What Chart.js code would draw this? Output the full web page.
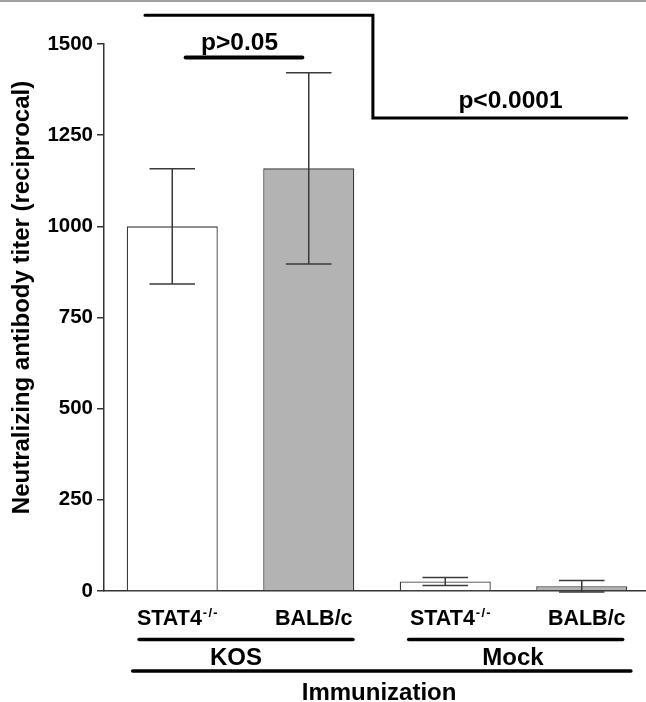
<!DOCTYPE html>
<html><head><meta charset="utf-8">
<script src="https://cdn.jsdelivr.net/npm/chart.js@4"></script>
<style>html,body{margin:0;padding:0;overflow:hidden;background:#fff}#wrap{width:650px;height:702px;position:relative}</style>
</head><body><div id="wrap"><canvas id="c"></canvas></div>
<script>
// ---- data ----
const categories = ['STAT4', 'BALB/c', 'STAT4', 'BALB/c'];
const superscripts = ['-/-', '', '-/-', ''];
const groups = ['KOS', 'Mock'];
const means = [1000, 1159, 26, 13];
const errors = [158, 262, 11, 16];
const fills = ['#ffffff', '#b3b3b3', '#ffffff', '#b3b3b3'];
const yTicks = [0, 250, 500, 750, 1000, 1250, 1500];
const yTitle = 'Neutralizing antibody titer (reciprocal)';
const xTitle = 'Immunization';
const pLabels = ['p>0.05', 'p<0.0001'];

const FONT = "'Liberation Sans', Arial, sans-serif";

const annot = {
  id: 'annot',
  afterDatasetsDraw(chart) {
    const ctx = chart.ctx, ys = chart.scales.y;
    const meta = chart.getDatasetMeta(0);
    ctx.save();
    ctx.strokeStyle = '#3a3a3a';
    ctx.lineWidth = 1.5;
    meta.data.forEach((bar, i) => {
      const x = bar.x, half = bar.width / 4;
      const yt = ys.getPixelForValue(means[i] + errors[i]);
      const yb = ys.getPixelForValue(means[i] - errors[i]);
      ctx.beginPath();
      ctx.moveTo(x, yt); ctx.lineTo(x, yb);
      ctx.moveTo(x - half, yt); ctx.lineTo(x + half, yt);
      ctx.moveTo(x - half, yb); ctx.lineTo(x + half, yb);
      ctx.stroke();
    });
    ctx.restore();
  },
  afterDraw(chart) {
    const ctx = chart.ctx, ys = chart.scales.y, xs = chart.scales.x;
    const x0 = xs.getPixelForValue(0), x1 = xs.getPixelForValue(1);
    const px = f => x0 + f * (x1 - x0);
    const py = v => ys.getPixelForValue(v);
    ctx.save();
    ctx.strokeStyle = '#a0a0a0'; ctx.lineWidth = 2;
    ctx.beginPath(); ctx.moveTo(0, 1); ctx.lineTo(chart.width, 1); ctx.stroke();

    ctx.strokeStyle = '#000'; ctx.fillStyle = '#000';
    ctx.lineCap = 'round'; ctx.lineJoin = 'miter';
    ctx.lineWidth = 3;
    ctx.beginPath();
    ctx.moveTo(px(-0.2), py(1579));
    ctx.lineTo(px(1.47), py(1579));
    ctx.lineTo(px(1.47), py(1297));
    ctx.lineTo(px(3.33), py(1297));
    ctx.stroke();
    ctx.lineWidth = 4;
    ctx.beginPath(); ctx.moveTo(px(0.098), py(1463)); ctx.lineTo(px(0.953), py(1463)); ctx.stroke();

    ctx.textAlign = 'center'; ctx.textBaseline = 'alphabetic';
    ctx.font = 'bold 24.5px ' + FONT;
    ctx.fillText(pLabels[0], px(0.493), py(1483));
    ctx.fillText(pLabels[1], px(2.478), py(1325));

    const baseY = 624.5;
    categories.forEach((lab, i) => {
      const cx = xs.getPixelForValue(i) + 5;
      ctx.font = 'bold 21.5px ' + FONT;
      const w1 = ctx.measureText(lab).width;
      const sup = superscripts[i];
      ctx.font = 'bold 13px ' + FONT;
      const chars = sup.split('');
      const sp = 1.2;
      let w2 = 0;
      chars.forEach((c, k) => { w2 += ctx.measureText(c).width + (k ? sp : 0); });
      const total = w1 + (sup ? w2 + 1 : 0);
      const sx = cx - total / 2;
      ctx.textAlign = 'left';
      ctx.font = 'bold 21.5px ' + FONT;
      ctx.fillText(lab, sx, baseY);
      if (sup) {
        ctx.font = 'bold 13px ' + FONT;
        let xx = sx + w1 + 1;
        chars.forEach(c => { ctx.fillText(c, xx, baseY - 8); xx += ctx.measureText(c).width + sp; });
      }
    });

    ctx.lineWidth = 3.5;
    ctx.beginPath(); ctx.moveTo(px(-0.243), 639.5); ctx.lineTo(px(1.324), 639.5); ctx.stroke();
    ctx.beginPath(); ctx.moveTo(px(1.732), 639.5); ctx.lineTo(px(3.3), 639.5); ctx.stroke();
    ctx.beginPath(); ctx.moveTo(px(-0.29), 671); ctx.lineTo(px(3.36), 671); ctx.stroke();

    ctx.textAlign = 'center';
    ctx.font = 'bold 24px ' + FONT;
    ctx.fillText(groups[0], px(0.467), 665);
    ctx.fillText(groups[1], px(2.496), 665);
    ctx.fillText(xTitle, px(1.515), 700);

    ctx.save();
    ctx.translate(22, 297.5);
    ctx.rotate(-Math.PI / 2);
    ctx.textBaseline = 'middle';
    ctx.font = 'bold 24px ' + FONT;
    ctx.fillText(yTitle, 0, 0);
    ctx.restore();

    ctx.restore();
  }
};

new Chart(document.getElementById('c'), {
  type: 'bar',
  data: {
    labels: categories,
    datasets: [{
      data: means,
      backgroundColor: fills,
      borderColor: '#3a3a3a',
      borderWidth: 1.3,
      barPercentage: 0.667,
      categoryPercentage: 1
    }]
  },
  options: {
    responsive: true,
    maintainAspectRatio: false,
    animation: false,
    layout: { padding: { top: 44, left: 0, right: 0, bottom: 0 } },
    plugins: { legend: { display: false }, tooltip: { enabled: false } },
    scales: {
      y: {
        min: yTicks[0], max: yTicks[yTicks.length - 1],
        afterBuildTicks(s) { s.ticks = yTicks.map(v => ({ value: v })); },
        ticks: { font: { family: FONT, size: 20.5, weight: 'bold' }, color: '#000', padding: 4, callback: v => String(v) },
        grid: { drawOnChartArea: false, tickLength: 7, color: '#333', lineWidth: 1.5 },
        border: { color: '#333', width: 1.5 },
        afterFit(s) { s.width = 104; }
      },
      x: {
        ticks: { display: false },
        grid: { display: false },
        border: { color: '#333', width: 1.5 },
        afterFit(s) { s.height = 111; }
      }
    }
  },
  plugins: [annot]
});
</script></body></html>
